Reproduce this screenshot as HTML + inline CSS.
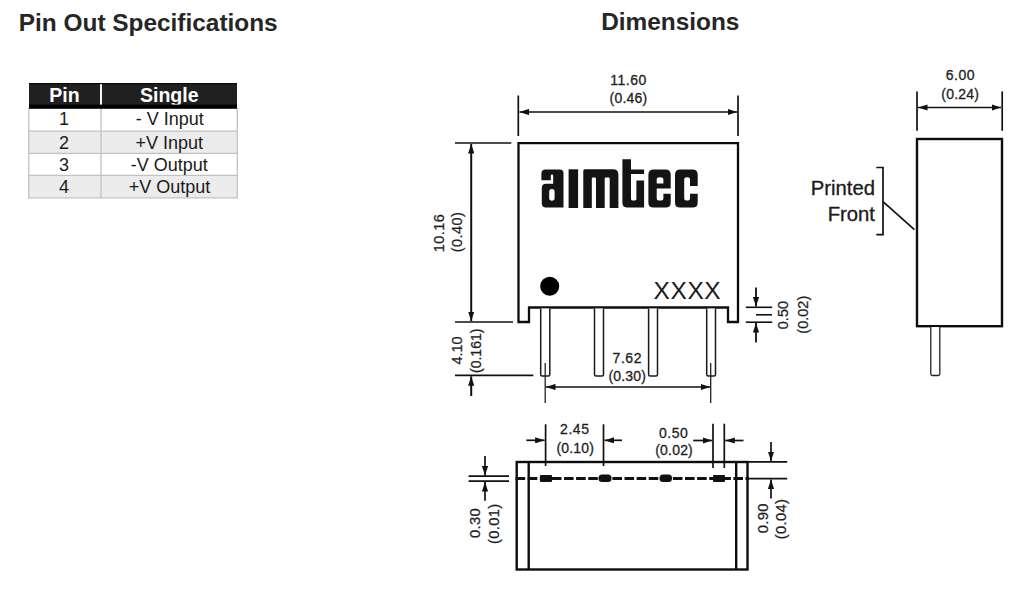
<!DOCTYPE html>
<html><head><meta charset="utf-8">
<style>
html,body{margin:0;padding:0;background:#fff;}
body{width:1024px;height:590px;overflow:hidden;position:relative;font-family:"Liberation Sans",sans-serif;}
svg{position:absolute;left:0;top:0;}
</style></head><body>
<svg width="1024" height="590" viewBox="0 0 1024 590" font-family="Liberation Sans, sans-serif">
<defs>
<marker id="ah" viewBox="0 0 10 10" refX="10" refY="5" markerWidth="9.5" markerHeight="6.2" markerUnits="userSpaceOnUse" orient="auto-start-reverse" preserveAspectRatio="none"><path d="M0 0 L10 5 L0 10 z" fill="#111"/></marker>
<filter id="bl" x="-10%" y="-10%" width="120%" height="120%"><feGaussianBlur stdDeviation="0.5"/></filter>
</defs>
<!-- Headings -->
<text x="18.8" y="30.5" font-size="24.4" font-weight="bold" fill="#262626">Pin Out Specifications</text>
<text x="601.2" y="30.3" font-size="24.4" font-weight="bold" fill="#262626">Dimensions</text>

<!-- Table -->
<g>
<rect x="28.5" y="83" width="209" height="115" fill="#fff"/>
<rect x="29" y="108.5" width="208" height="22.5" fill="#fff"/>
<rect x="29" y="131" width="208" height="22.3" fill="#ececec"/>
<rect x="29" y="153.3" width="208" height="22" fill="#fff"/>
<rect x="29" y="175.3" width="208" height="22.6" fill="#ececec"/>
<g stroke="#c2c2c2" stroke-width="1.3" fill="none">
<line x1="28.8" y1="108" x2="28.8" y2="198.5"/>
<line x1="237.3" y1="108" x2="237.3" y2="198.5"/>
<line x1="101" y1="108" x2="101" y2="198.5"/>
<line x1="28.5" y1="131.2" x2="237.6" y2="131.2"/>
<line x1="28.5" y1="153.3" x2="237.6" y2="153.3"/>
<line x1="28.5" y1="175.3" x2="237.6" y2="175.3"/>
<line x1="28.5" y1="197.9" x2="237.6" y2="197.9"/>
</g>
<rect x="29" y="83" width="208" height="22.5" fill="#202020"/>
<rect x="100" y="83" width="2" height="22" fill="#f4f4f4"/>
<g font-size="19.5" font-weight="bold" fill="#fff" text-anchor="middle">
<text x="64.5" y="102">Pin</text>
<text x="169.3" y="102">Single</text>
</g>
<rect x="29" y="104.6" width="208" height="4.2" fill="#000"/>
<rect x="29" y="83" width="208" height="1.2" fill="#0a0a0a"/>
<g font-size="18" fill="#1a1a1a" text-anchor="middle">
<text x="64" y="125.2">1</text>
<text x="64" y="148.5">2</text>
<text x="64" y="170.8">3</text>
<text x="64" y="193">4</text>
<text x="169.7" y="125.2">- V Input</text>
<text x="169.3" y="148.5">+V Input</text>
<text x="169.3" y="170.8">-V Output</text>
<text x="169.5" y="193">+V Output</text>
</g>
</g>

<!-- Front view body -->
<g fill="none" stroke="#0d0d0d" stroke-width="2.3">
<path d="M518.5 143.2 H738 V322 H728 V307.5 H529 V322 H518.5 Z"/>
</g>
<circle cx="549.7" cy="286.3" r="9.5" fill="#000"/>
<text x="653.5" y="298.5" font-size="24.5" fill="#1a1a1a" letter-spacing="0.6">XXXX</text>

<!-- pins -->
<g fill="#fff" stroke="#1a1a1a" stroke-width="1.5">
<path d="M540.7 308.5 V374.5 Q540.7 376 542.2 376 H548.3 Q549.8 376 549.8 374.5 V308.5"/>
<path d="M594.5 308.5 V374.5 Q594.5 376 596 376 H602 Q603.5 376 603.5 374.5 V308.5"/>
<path d="M648.6 308.5 V374.5 Q648.6 376 650.1 376 H656 Q657.5 376 657.5 374.5 V308.5"/>
<path d="M706.7 308.5 V374.5 Q706.7 376 708.2 376 H714 Q715.5 376 715.5 374.5 V308.5"/>
</g>
<g stroke="#222" stroke-width="1.3">
<line x1="545.2" y1="363" x2="545.2" y2="403"/>
<line x1="710.7" y1="363" x2="710.7" y2="403"/>
</g>
<line x1="546" y1="387" x2="710" y2="387" stroke="#111" stroke-width="1.7" marker-start="url(#ah)" marker-end="url(#ah)"/>
<g font-size="14" fill="#1e1e1e" stroke="#1e1e1e" stroke-width="0.3" letter-spacing="0.55" text-anchor="middle">
<text x="627.3" y="362.5">7.62</text>
<text x="627.3" y="381" letter-spacing="0.2">(0.30)</text>
</g>

<!-- top dim 11.60 -->
<g stroke="#111" stroke-width="1.7">
<line x1="518.3" y1="95.5" x2="518.3" y2="136"/>
<line x1="738" y1="95.5" x2="738" y2="136"/>
</g>
<line x1="519.5" y1="112" x2="737" y2="112" stroke="#111" stroke-width="1.7" marker-start="url(#ah)" marker-end="url(#ah)"/>
<g font-size="14" fill="#1e1e1e" stroke="#1e1e1e" stroke-width="0.3" letter-spacing="0.55" text-anchor="middle">
<text x="628.5" y="84.6">11.60</text>
<text x="628.5" y="103" letter-spacing="0.2">(0.46)</text>
</g>

<!-- left dims -->
<g stroke="#111" stroke-width="1.7">
<line x1="455" y1="143" x2="511.3" y2="143"/>
<line x1="455" y1="322" x2="513" y2="322"/>
<line x1="455" y1="375.3" x2="533.3" y2="375.3"/>
</g>
<line x1="471.2" y1="144" x2="471.2" y2="321" stroke="#111" stroke-width="2" marker-start="url(#ah)" marker-end="url(#ah)"/>
<line x1="471.2" y1="396" x2="471.2" y2="376.3" stroke="#111" stroke-width="2" marker-end="url(#ah)"/>
<g font-size="14.5" fill="#1e1e1e" stroke="#1e1e1e" stroke-width="0.25" letter-spacing="0.45" text-anchor="middle">
<text transform="translate(443.8 233) rotate(-90)" x="0" y="0">10.16</text>
<text transform="translate(462 232) rotate(-90)" x="0" y="0">(0.40)</text>
<text transform="translate(461.9 350.5) rotate(-90)" letter-spacing="0">4.10</text>
<text transform="translate(480.5 350.8) rotate(-90)" letter-spacing="0" font-size="14">(0.161)</text>
</g>

<!-- right 0.50 dim -->
<g stroke="#111" stroke-width="1.6">
<line x1="745.8" y1="307.3" x2="772.2" y2="307.3"/>
<line x1="745.8" y1="322.2" x2="772.2" y2="322.2"/>
<line x1="756" y1="314.8" x2="772" y2="314.8"/>
</g>
<line x1="756" y1="287.6" x2="756" y2="306.5" stroke="#111" stroke-width="1.8" marker-end="url(#ah)"/>
<line x1="756" y1="342.6" x2="756" y2="323" stroke="#111" stroke-width="1.8" marker-end="url(#ah)"/>
<g font-size="14.5" fill="#1e1e1e" stroke="#1e1e1e" stroke-width="0.25" text-anchor="middle">
<text transform="translate(787.8 315.1) rotate(-90)">0.50</text>
<text transform="translate(807.5 314.7) rotate(-90)">(0.02)</text>
</g>

<!-- side view -->
<g stroke="#111" stroke-width="1.7">
<line x1="917" y1="91.4" x2="917" y2="130.8"/>
<line x1="1002.2" y1="91.4" x2="1002.2" y2="130.8"/>
</g>
<line x1="918" y1="107.5" x2="1001" y2="107.5" stroke="#111" stroke-width="1.7" marker-start="url(#ah)" marker-end="url(#ah)"/>
<g font-size="14" fill="#1e1e1e" stroke="#1e1e1e" stroke-width="0.3" letter-spacing="0.55" text-anchor="middle">
<text x="960.4" y="80.3">6.00</text>
<text x="960.2" y="99" letter-spacing="0.2">(0.24)</text>
</g>
<rect x="917" y="139" width="85" height="187.2" fill="none" stroke="#0d0d0d" stroke-width="2.4"/>
<path d="M930.8 327 V374 Q930.8 375.5 932.3 375.5 H938.3 Q939.8 375.5 939.8 374 V327" fill="#fff" stroke="#222" stroke-width="1.3"/>
<path d="M876.3 167.5 H883 V234.7 H876.3" fill="none" stroke="#111" stroke-width="1.7"/>
<line x1="883" y1="201.7" x2="914.4" y2="229.7" stroke="#111" stroke-width="1.7"/>
<g font-size="20.3" fill="#1a1a1a" stroke="#1a1a1a" stroke-width="0.3" text-anchor="end">
<text x="875" y="195">Printed</text>
<text x="875" y="221.2">Front</text>
</g>

<!-- bottom view -->
<g fill="none" stroke="#0d0d0d" stroke-width="2.4">
<rect x="516.7" y="462" width="230.8" height="107.5"/>
<line x1="528.7" y1="462" x2="528.7" y2="569.5"/>
<line x1="736.2" y1="462" x2="736.2" y2="569.5"/>
</g>
<line x1="515.6" y1="478.5" x2="749" y2="478.5" stroke="#111" stroke-width="2.8" stroke-dasharray="9.6 2.5"/>
<g fill="#111">
<rect x="540" y="475" width="12" height="7" rx="1"/>
<rect x="598.5" y="474.5" width="13" height="7.5" rx="3.5"/>
<rect x="659.5" y="474.5" width="12.5" height="7.5" rx="3.5"/>
<rect x="713" y="475" width="12" height="7" rx="1"/>
</g>
<g stroke="#111" stroke-width="1.7">
<line x1="545.6" y1="424.3" x2="545.6" y2="466"/>
<line x1="603.5" y1="424.3" x2="603.5" y2="466"/>
<line x1="713" y1="423.7" x2="713" y2="468"/>
<line x1="724.3" y1="423.7" x2="724.3" y2="468"/>
</g>
<line x1="526.3" y1="440.3" x2="544.6" y2="440.3" stroke="#111" stroke-width="1.7" marker-end="url(#ah)"/>
<line x1="622" y1="440.3" x2="604.5" y2="440.3" stroke="#111" stroke-width="1.7" marker-end="url(#ah)"/>
<line x1="693.2" y1="440.5" x2="712" y2="440.5" stroke="#111" stroke-width="1.7" marker-end="url(#ah)"/>
<line x1="743.5" y1="440.5" x2="725.3" y2="440.5" stroke="#111" stroke-width="1.7" marker-end="url(#ah)"/>
<g font-size="14" fill="#1e1e1e" stroke="#1e1e1e" stroke-width="0.3" letter-spacing="0.55" text-anchor="middle">
<text x="574.8" y="434.4">2.45</text>
<text x="575.3" y="453" letter-spacing="0.2">(0.10)</text>
<text x="673.7" y="437.5">0.50</text>
<text x="674.1" y="455" letter-spacing="0.2">(0.02)</text>
</g>
<!-- 0.30 left -->
<g stroke="#111" stroke-width="1.7">
<line x1="468.6" y1="476.2" x2="509" y2="476.2"/>
<line x1="468.6" y1="481.1" x2="509" y2="481.1"/>
</g>
<line x1="485" y1="456" x2="485" y2="475.5" stroke="#111" stroke-width="1.7" marker-end="url(#ah)"/>
<line x1="485" y1="500.7" x2="485" y2="482" stroke="#111" stroke-width="1.7" marker-end="url(#ah)"/>
<g font-size="14.8" fill="#1e1e1e" stroke="#1e1e1e" stroke-width="0.25" letter-spacing="0.3" text-anchor="middle">
<text transform="translate(479.8 523) rotate(-90)">0.30</text>
<text transform="translate(499 523.8) rotate(-90)">(0.01)</text>
</g>
<!-- 0.90 right -->
<g stroke="#111" stroke-width="1.7">
<line x1="748" y1="461.9" x2="787.2" y2="461.9"/>
<line x1="748" y1="478.6" x2="787.2" y2="478.6"/>
</g>
<line x1="771" y1="442" x2="771" y2="461" stroke="#111" stroke-width="1.7" marker-end="url(#ah)"/>
<line x1="771" y1="498.5" x2="771" y2="479.5" stroke="#111" stroke-width="1.7" marker-end="url(#ah)"/>
<g font-size="14.8" fill="#1e1e1e" stroke="#1e1e1e" stroke-width="0.25" letter-spacing="0.3" text-anchor="middle">
<text transform="translate(768 518.3) rotate(-90)">0.90</text>
<text transform="translate(786 519) rotate(-90)">(0.04)</text>
</g>

<!-- logo -->
<g fill="#141414" fill-rule="evenodd">
<path d="M545.6 169.6 H559.8 Q563.5 169.6 563.5 173.3 V207.5 H546 Q541.8 207.5 541.8 203.3 V188 Q541.8 183.8 546 183.8 H553.2 V175.9 Q553.2 174.5 552 174.5 Q550.8 174.5 550.8 175.9 V180.2 H541.4 V173.8 Q541.4 169.6 545.6 169.6 Z M549.2 191.7 Q549.2 189 551.9 189 Q554.6 189 554.6 191.7 V198.1 Q554.6 200.7 551.9 200.7 Q549.2 200.7 549.2 198.1 Z"/>
<path d="M568.6 169.3 H578.1 V208 H568.6 Z"/>
<path d="M584.8 169.3 H613 Q618.4 169.3 618.4 174.7 V208 H609.7 V178.8 Q609.7 177.5 608.4 177.5 H606 Q604.7 177.5 604.7 178.8 V208 H596 V178.8 Q596 177.5 594.7 177.5 H593.1 Q591.8 177.5 591.8 178.8 V208 H583.3 V170.8 Q583.3 169.3 584.8 169.3 Z"/>
<path d="M622.4 159.3 H631 V169.5 H644.1 V173.9 H631 V199 Q631 200.4 632.4 200.4 H635 Q636.4 200.4 636.4 199 V180.6 H644.1 V207.6 H627.6 Q622.4 207.6 622.4 202.4 Z"/>
<path d="M653.6 169.5 H665.5 Q670.7 169.5 670.7 174.7 V188.4 H656.7 V198.4 Q656.7 200.4 658.7 200.4 H661.4 Q663.4 200.4 663.4 198.4 V193.7 H670.7 V202.4 Q670.7 207.6 665.5 207.6 H653.6 Q648.4 207.6 648.4 202.4 V174.7 Q648.4 169.5 653.6 169.5 Z M656.7 179.4 Q656.7 177.2 660 177.2 Q663.4 177.2 663.4 179.4 V183.5 H656.7 Z"/>
<path d="M680.2 169.5 H692.5 Q697.7 169.5 697.7 174.7 V186 H690 V179.4 Q690 177.2 687.1 177.2 Q684.2 177.2 684.2 179.4 V198.4 Q684.2 200.4 686.2 200.4 H688 Q690 200.4 690 198.4 V193.7 H697.7 V202.4 Q697.7 207.6 692.5 207.6 H680.2 Q675 207.6 675 202.4 V174.7 Q675 169.5 680.2 169.5 Z"/>
</g>
</svg>
</body></html>
